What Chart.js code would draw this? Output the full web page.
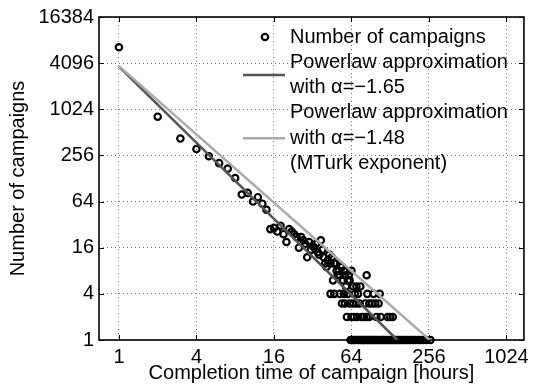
<!DOCTYPE html>
<html>
<head>
<meta charset="utf-8">
<script src="https://cdn.jsdelivr.net/npm/chart.js@4.4.1/dist/chart.umd.min.js"></script>
<style>
  html, body { margin: 0; padding: 0; background: #fff; }
  #wrap { width: 534px; height: 390px; }
</style>
</head>
<body>
<div id="wrap"><canvas id="chart" width="534" height="390"></canvas></div>
<script>
// completion time (hours) and number of campaigns
const hoursHead = [1, 2, 3, 4, 5, 6, 7, 8, 9, 10, 11, 12, 13, 14,
  15, 16, 17, 18, 19, 20, 21, 22, 23, 24, 25, 26, 27, 28, 29, 30,
  31, 32, 33, 34, 35, 36, 37, 38, 39, 40, 41, 42, 43, 44, 45, 46,
  47, 48, 49, 50, 51, 52, 53, 54, 55, 56, 57, 58, 60, 61, 62, 64,
  66, 70, 75, 84];
const countsHead = [6600, 820, 425, 310, 250, 203, 172, 130, 79, 83, 64, 73, 60, 50,
  28, 29, 26, 31, 24, 19, 28, 26, 24, 22, 16, 22, 20, 18, 12, 19,
  15, 17, 16, 18, 14, 13, 20, 15, 12, 10, 9, 11, 13, 10, 12, 6,
  10, 10, 8, 7, 8, 7, 9, 9, 6, 8, 7, 5, 6, 7, 6, 8,
  5, 5, 5, 7];

// tail: hours that had only a few campaigns
const hoursCount4 = [44, 47, 52, 56, 60, 68, 72, 85, 95, 106];
const hoursCount3 = [54, 57, 62, 66, 70, 74, 82, 88, 93, 98, 104];
const hoursCount2 = [59, 64, 67, 71, 77, 80, 84, 88, 100, 108, 122, 128, 134];
const hoursCount1 = [63, 65, 67, 69, 72, 74, 76, 78, 80, 82, 85, 87, 90, 92, 95, 97,
  100, 103, 106, 110, 113, 116, 120, 124, 128, 132, 136, 140, 145, 150, 155, 160,
  166, 172, 178, 185, 192, 200, 210, 220, 232, 245, 263];

// power law fits  y = c * x^alpha
const fitAlpha = [-1.65, -1.48];
const fitScale = [3700, 3750];

const xTicks = [1, 4, 16, 64, 256, 1024];
const yTicks = [1, 4, 16, 64, 256, 1024, 4096, 16384];

const legendLabels = [
  ['Number of campaigns'],
  ['Powerlaw approximation', 'with \u03b1=\u22121.65'],
  ['Powerlaw approximation', 'with \u03b1=\u22121.48', '(MTurk exponent)']
];

let points = hoursHead.map((h, i) => ({x: h, y: countsHead[i]}));
[[hoursCount4, 4], [hoursCount3, 3], [hoursCount2, 2], [hoursCount1, 1]].forEach(r => {
  r[0].forEach(h => points.push({x: h, y: r[1]}));
});

function fitLine(k){
  let c = fitScale[k], a = fitAlpha[k];
  return [{x: 1, y: c}, {x: Math.pow(c, -1 / a), y: 1}];
}

const FONT = '"Liberation Sans", Arial, sans-serif';
const darkGray = '#555555';
const lightGray = '#aaaaaa';

let framePlugin = {
  id: 'frame',
  beforeDatasetsDraw(chart){
    let ctx = chart.ctx, a = chart.chartArea;
    let sx = chart.scales.x, sy = chart.scales.y;
    ctx.save();
    ctx.strokeStyle = '#000';
    ctx.lineWidth = 1;
    ctx.beginPath();
    xTicks.forEach(v => {
      let px = Math.round(sx.getPixelForValue(v)) + 0.5;
      ctx.moveTo(px, a.bottom); ctx.lineTo(px, a.bottom - 5);
      ctx.moveTo(px, a.top); ctx.lineTo(px, a.top + 5);
    });
    yTicks.forEach(v => {
      let py = Math.round(sy.getPixelForValue(v)) + 0.5;
      ctx.moveTo(a.left, py); ctx.lineTo(a.left + 5, py);
      ctx.moveTo(a.right, py); ctx.lineTo(a.right - 5, py);
    });
    ctx.stroke();
    ctx.lineWidth = 1.6;
    ctx.strokeRect(a.left, a.top, a.right - a.left, a.bottom - a.top);
    ctx.restore();
  },
  afterDraw(chart){
    let ctx = chart.ctx;
    ctx.save();
    ctx.font = '20px ' + FONT;
    ctx.fillStyle = '#000';
    ctx.textBaseline = 'middle';
    let row = 0, rowH = 25.3, top = 37, textX = 290;
    legendLabels.forEach((lines, k) => {
      let mid = top + rowH * (row + (lines.length - 1) / 2);
      if(k == 0){
        ctx.beginPath();
        ctx.arc(265, mid, 3.2, 0, Math.PI * 2);
        ctx.lineWidth = 2.2;
        ctx.strokeStyle = '#000';
        ctx.stroke();
      }
      else{
        ctx.beginPath();
        ctx.moveTo(243, mid); ctx.lineTo(285, mid);
        ctx.lineWidth = 2.5;
        ctx.strokeStyle = k == 1 ? darkGray : lightGray;
        ctx.stroke();
      }
      lines.forEach(t => {
        ctx.fillText(t, textX, top + rowH * row);
        row++;
      });
    });
    ctx.restore();
  }
};

let config = {
  type: 'scatter',
  data: {
    datasets: [
      {
        data: fitLine(1),
        showLine: true,
        borderColor: lightGray,
        borderWidth: 2.5,
        pointRadius: 0,
        order: 0
      },
      {
        data: fitLine(0),
        showLine: true,
        borderColor: darkGray,
        borderWidth: 2.5,
        pointRadius: 0,
        order: 1
      },
      {
        data: points,
        pointStyle: 'circle',
        pointRadius: 3.2,
        borderWidth: 2.2,
        borderColor: '#000',
        backgroundColor: 'rgba(0,0,0,0)',
        clip: false,
        order: 2
      }
    ]
  },
  options: {
    responsive: false,
    animation: false,
    layout: { padding: { top: 14, right: 7, left: 0, bottom: 0 } },
    plugins: {
      legend: { display: false },
      tooltip: { enabled: false }
    },
    scales: {
      x: {
        type: 'logarithmic',
        min: 0.7,
        max: 1400,
        afterBuildTicks: s => { s.ticks = xTicks.map(v => ({value: v})); },
        afterFit: s => { s.height = 50; },
        ticks: {
          callback: v => String(v),
          font: { family: FONT, size: 20 },
          color: '#000',
          padding: 5,
          maxRotation: 0,
          autoSkip: false
        },
        grid: { color: '#777', lineWidth: 1, drawTicks: false },
        border: { display: false, dash: [1, 3] },
        title: {
          display: true,
          text: 'Completion time of campaign [hours]',
          font: { family: FONT, size: 20 },
          color: '#000',
          padding: { top: 0, bottom: 5 }
        }
      },
      y: {
        type: 'logarithmic',
        min: 1,
        max: 16384,
        afterBuildTicks: s => { s.ticks = yTicks.map(v => ({value: v})); },
        afterFit: s => { s.width = 99; },
        ticks: {
          callback: v => String(v),
          font: { family: FONT, size: 20 },
          color: '#000',
          padding: 5,
          autoSkip: false
        },
        grid: { color: '#777', lineWidth: 1, drawTicks: false },
        border: { display: false, dash: [1, 3] },
        title: {
          display: true,
          text: 'Number of campaigns',
          font: { family: FONT, size: 20 },
          color: '#000',
          padding: { top: 6, bottom: 0 }
        }
      }
    }
  },
  plugins: [framePlugin]
};

let chart = new Chart(document.getElementById('chart').getContext('2d'), config);
</script>
</body>
</html>
